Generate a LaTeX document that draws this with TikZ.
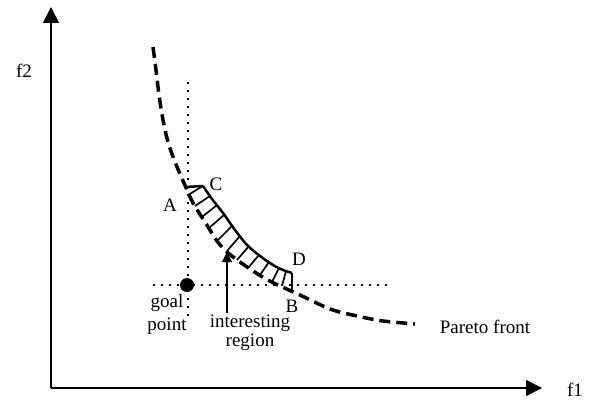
\documentclass[tikz,border=0pt]{standalone}
\usepackage{fontspec}
\setmainfont{Liberation Serif}
\usetikzlibrary{arrows.meta}
\tikzset{
  axisline/.style={line width=1.6pt,-{Triangle[length=16pt,width=16pt]}},
  pareto/.style={line width=3.5pt,dash pattern=on 11pt off 6pt},
  outercurve/.style={line width=2.5pt},
  hatchline/.style={line width=1.7pt},
  dotline/.style={line width=2.2pt,dash pattern=on 2.2pt off 5.8pt},
  lbl/.style={inner sep=0pt,anchor=base,font=\fontsize{19}{21}\selectfont},
  goalpt/.style={circle,fill=black,inner sep=0pt,minimum size=14pt},
  pointer/.style={line width=1.3pt,-{Triangle[length=10pt,width=10pt]}}
}
\begin{document}
\begin{tikzpicture}[x=1pt,y=-1pt]
\useasboundingbox (0,0) rectangle (591,401);
% axes
\coordinate (O) at (51,388);
\coordinate (ytip) at (51,7);
\coordinate (xtip) at (542,388);
\draw[axisline] (O) -- (ytip);
\draw[axisline] (O) -- (xtip);
\node[lbl] (f2) at (24,78) {f2};
\node[lbl] (f1) at (575,396) {f1};
% dotted guide lines
\coordinate (vtop) at (188,82);
\coordinate (vbot) at (188,318);
\coordinate (hleft) at (153,285);
\coordinate (hright) at (392,285);
\draw[dotline] (vtop) -- (vbot);
\draw[dotline] (hleft) -- (hright);
% pareto front
\draw[pareto] plot[smooth,tension=0.5] coordinates {(153,47) (156,70) (159,95) (163,120) (168,142) (175,162) (184,183) (193,203) (205,222) (217,241) (227,252) (240,262) (253,271) (266,279) (280,286) (300,295) (330,309) (357,316) (383,321) (415,324)};
% interesting region
\coordinate (Cc) at (203,186);
\coordinate (Cl) at (185,187);
\coordinate (Dc) at (292,273);
\coordinate (Db) at (292,290);
\draw[outercurve] (Cl) -- (Cc);
\draw[outercurve] plot[smooth,tension=0.5] coordinates {(203,186) (212,199) (223,213) (235,230) (247,245) (260,256) (273,265) (283,270) (292,273)};
\draw[outercurve] (Dc) -- (Db);
\foreach \ox/\oy/\ix/\iy in {203/186/188/195, 210/196/195/206, 217/205/202/217, 224/215/209/228, 232/226/218/240, 240/236/227/251, 249/246/237/260, 259/255/248/268, 269/262/260/275, 279/268/272/282, 286/271/282/286}
  \draw[hatchline] (\ox,\oy) -- (\ix,\iy);
% goal point
\node[goalpt] (goal) at (187,285) {};
\node[lbl] (goal1) at (167,307) {goal};
\node[lbl] (goal2) at (167,330) {point};
% pointer
\coordinate (itail) at (227,313);
\coordinate (ihead) at (227,252);
\draw[pointer] (itail) -- (ihead);
\node[lbl] (int1) at (250,327) {interesting};
\node[lbl] (int2) at (250,346) {region};
% letters
\node[lbl] (A) at (170,211) {A};
\node[lbl] (C) at (216,190) {C};
\node[lbl] (D) at (299,265) {D};
\node[lbl] (B) at (292,312) {B};
\node[lbl] (pf) at (485,333) {Pareto front};
\end{tikzpicture}
\end{document}
